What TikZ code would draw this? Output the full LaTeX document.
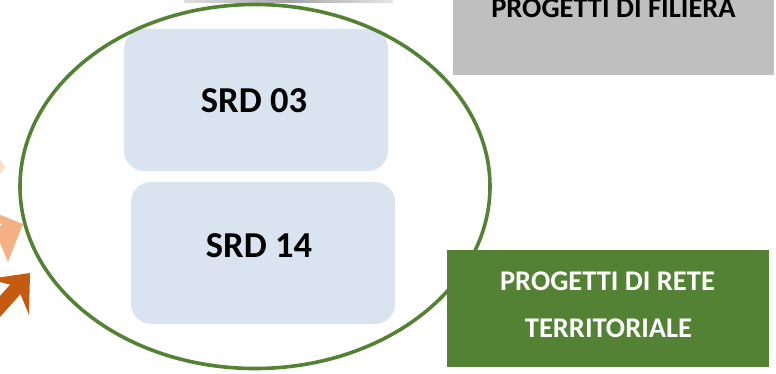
\documentclass[tikz,border=0pt]{standalone}
\usepackage{fontspec}
\setmainfont{Carlito}
\usetikzlibrary{shapes.geometric}
\definecolor{grayfill}{HTML}{BFBFBF}
\definecolor{greenline}{HTML}{548235}
\definecolor{bluefill}{HTML}{DAE3F0}
\definecolor{darkor}{HTML}{C55A11}
\definecolor{lightor}{HTML}{F4B183}
\definecolor{paleor}{HTML}{FBDDC9}
\tikzset{
  plainbox/.style={rectangle, inner sep=0pt, outer sep=0pt, anchor=north west},
  srdbox/.style={plainbox, fill=bluefill, rounded corners=20pt, minimum width=264pt, minimum height=142pt},
  bigtxt/.style={font=\bfseries\fontsize{36.5}{40}\selectfont, inner sep=0pt, anchor=base},
  boxtxt/.style={font=\bfseries\fontsize{28.5}{32}\selectfont, inner sep=0pt, anchor=base},
}
\begin{document}
\begin{tikzpicture}[x=1pt,y=-1pt]
\useasboundingbox (0,0) rectangle (776,374);
% top shadow strip
\shade[left color=gray!25, right color=gray!20, middle color=gray!70] (184,0) rectangle (393,2.6);
% gray box
\node[plainbox, fill=grayfill, minimum width=321pt, minimum height=75pt] (filbox) at (453,0) {};
\node[boxtxt, text=black] (filtxt) at (613.5,18) {PROGETTI DI FILIERA};
% green box
\node[plainbox, fill=greenline, minimum width=322pt, minimum height=117pt] (retebox) at (447,250) {};
\node[boxtxt, text=white] (retetxt1) at (607.5,290) {PROGETTI DI RETE};
\node[boxtxt, text=white] (retetxt2) at (608.5,337) {TERRITORIALE};
% blue rounded boxes
\node[srdbox] (srd03) at (124,29) {};
\node[bigtxt] (srd03txt) at (254,113) {SRD 03};
\node[srdbox] (srd14) at (131,182) {};
\node[bigtxt] (srd14txt) at (259,257) {SRD 14};
% ellipse
\node[ellipse, draw=greenline, line width=3.6pt, inner sep=0pt, minimum width=470pt, minimum height=364pt] (ring) at (255,186.5) {};
% arrows at left
\fill[paleor] (0,160) -- (5.5,167) -- (0,174) -- cycle;
\fill[lightor] (23,224) -- (8,262) -- (0,243) -- (-30,256) -- (-36,241) -- (2,225) -- (-15,209) -- cycle;
\fill[darkor] (30,273) -- (29,315) -- (20.5,294.1) -- (-18.2,337.3) -- (-28.6,327.9) -- (10.1,284.7) -- (-12,279) -- cycle;
\end{tikzpicture}
\end{document}
